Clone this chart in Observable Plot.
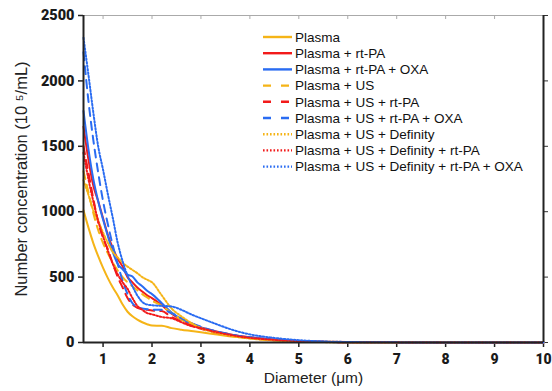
<!DOCTYPE html>
<html>
<head>
<meta charset="utf-8">
<script src="https://cdn.jsdelivr.net/npm/d3@7"></script>
<script src="https://cdn.jsdelivr.net/npm/@observablehq/plot@0.6"></script>
<style>
  html, body { margin: 0; padding: 0; background: #fff; }
  #chart { width: 552px; height: 391px; }
</style>
</head>
<body>
<div id="chart"></div>
<script>
const diameters = [0.6,0.7,0.8,0.9,1.0,1.1,1.2,1.3,1.4,1.5,1.6,1.7,1.8,1.9,2.0,2.2,2.4,2.6,2.8,3.0,3.25,3.5,3.75,4.0,4.5,5.0,5.5,6,7,8,9,10];

const seriesNames = [
  "Plasma",
  "Plasma + rt-PA",
  "Plasma + rt-PA + OXA",
  "Plasma + US",
  "Plasma + US + rt-PA",
  "Plasma + US + rt-PA + OXA",
  "Plasma + US + Definity",
  "Plasma + US + Definity + rt-PA",
  "Plasma + US + Definity + rt-PA + OXA"
];

const plasma          = [1010,880,760,660,570,490,420,360,290,235,200,175,155,140,130,128,110,98,88,78,65,52,42,34,20,10,5,3,1,0,0,0];
const plasmaRtpa      = [1650,1400,1200,1080,950,820,720,640,580,500,460,420,390,360,340,285,220,175,145,115,90,70,52,40,22,12,6,3,1,0,0,0];
const plasmaRtpaOxa   = [1770,1480,1250,1080,940,810,690,600,560,520,505,460,430,395,370,300,230,180,145,115,88,68,50,38,20,10,5,2,1,0,0,0];
const plasmaUs        = [1310,1150,990,860,760,680,610,550,500,460,430,400,370,345,320,280,225,175,140,110,82,60,45,33,17,8,4,2,1,0,0,0];
const plasmaUsRtpa    = [1500,1300,1100,920,800,710,600,500,420,340,290,265,255,250,245,240,195,160,130,105,80,60,45,34,18,9,4,2,1,0,0,0];
const plasmaUsRtpaOxa = [2220,1850,1550,1300,1080,900,740,600,470,370,300,270,260,255,250,250,225,185,150,120,92,70,52,40,22,11,5,2,1,0,0,0];
const plasmaUsDef     = [1240,1130,1010,930,840,760,690,650,610,580,555,530,500,480,460,360,260,200,150,110,80,58,42,30,15,7,3,1,0,0,0,0];
const plasmaUsDefRtpa = [1450,1250,1080,930,810,700,600,520,460,410,340,280,250,225,215,195,185,155,125,110,85,65,48,36,20,10,5,2,1,0,0,0];
const plasmaUsDefRtpaOxa = [2330,2050,1760,1500,1320,1130,950,760,620,510,430,360,310,290,285,280,275,250,215,185,150,115,85,62,35,18,8,4,1,0,0,0];

const seriesValues = [plasma, plasmaRtpa, plasmaRtpaOxa, plasmaUs, plasmaUsRtpa, plasmaUsRtpaOxa, plasmaUsDef, plasmaUsDefRtpa, plasmaUsDefRtpaOxa];

const xTicks = [1,2,3,4,5,6,7,8,9,10];
const yTicks = [0,500,1000,1500,2000,2500];
const xLabel = "Diameter (μm)";
const yLabel = "Number concentration (10 ⁵/mL)";

const GOLD = "#f5b417", RED = "#f21a1a", BLUE = "#2a6cf2";
const seriesColors = [GOLD, RED, BLUE, GOLD, RED, BLUE, GOLD, RED, BLUE];
const DASHED = "8,6", DOTTED = "1.6,1.9";
const seriesDashes = [null, null, null, DASHED, DASHED, DASHED, DOTTED, DOTTED, DOTTED];

const lineMarks = seriesNames.map((name, i) => {
  const rows = diameters.map((d, j) => ({d, v: seriesValues[i][j]}));
  return Plot.line(rows, {
    x: "d", y: "v",
    stroke: seriesColors[i],
    strokeWidth: 2,
    strokeDasharray: seriesDashes[i] || undefined,
    curve: "monotone-x"
  });
});

const FONT = "'Liberation Sans', Arial, Helvetica, sans-serif";
const BOLDFONT = "Roboto, 'Liberation Sans', Arial, sans-serif";

const chart = Plot.plot({
  width: 552,
  height: 391,
  marginLeft: 83,
  marginRight: 9,
  marginTop: 15,
  marginBottom: 49,
  style: {fontFamily: FONT, fontSize: "14px", color: "#222", background: "#fff"},
  x: {domain: [0.6, 10]},
  y: {domain: [0, 2500]},
  marks: [
    Plot.ruleY([2500], {stroke: "#aaa", strokeWidth: 1}),
    Plot.axisX({anchor: "top", ticks: xTicks, tickSize: -3, stroke: "#aaa", tickFormat: () => "", label: null}),
    Plot.axisY({anchor: "right", ticks: yTicks, tickSize: 4, stroke: "#333", tickFormat: () => "", label: null}),
    Plot.axisX({ticks: xTicks, tickSize: 5, tickPadding: 7, stroke: "#222", strokeWidth: 1.5,
      tickFormat: d3.format("d"), fontWeight: "bold", fontSize: 14, fill: "#1a1a1a", label: null}),
    Plot.axisY({ticks: yTicks, tickSize: 5, tickPadding: 4, stroke: "#222", strokeWidth: 1.5,
      tickFormat: d3.format("d"), fontWeight: "bold", fontSize: 14.5, fill: "#1a1a1a", label: null}),
    Plot.text([xLabel], {frameAnchor: "bottom", dy: 40, text: d => d, fontSize: 15.5, fill: "#222"}),
    Plot.text([yLabel], {frameAnchor: "left", dx: -62, rotate: -90, textAnchor: "middle", text: d => d, fontSize: 16.5, fill: "#222"}),
    ...lineMarks,
    Plot.ruleX([0.6], {stroke: "#222", strokeWidth: 2}),
    Plot.ruleX([10], {stroke: "#222", strokeWidth: 2}),
    Plot.ruleY([0], {stroke: "#222", strokeWidth: 2})
  ]
});

const svg = d3.select(chart);
svg.selectAll("g[aria-label='x-axis tick label'], g[aria-label='y-axis tick label']")
  .attr("font-weight", "900").attr("font-family", BOLDFONT)
  .selectAll("text").attr("font-weight", "900").style("font-family", BOLDFONT).style("font-weight", "900");

// legend (layout only)
const lg = svg.append("g").attr("font-size", "13.5px").attr("fill", "#111")
  .attr("text-anchor", "start").attr("font-family", FONT);
seriesNames.forEach((name, i) => {
  const y = 37 + i * 16.2;
  lg.append("line")
    .attr("x1", 263).attr("x2", 292).attr("y1", y).attr("y2", y)
    .attr("stroke", seriesColors[i]).attr("stroke-width", 2.4)
    .attr("stroke-dasharray", seriesDashes[i] === DASHED ? "8,10" : seriesDashes[i] === DOTTED ? "1.6,1.9" : null);
  lg.append("text").attr("x", 295).attr("y", y).attr("dy", "0.35em").attr("text-anchor", "start").text(name);
});

document.getElementById("chart").appendChild(chart);
</script>
</body>
</html>
